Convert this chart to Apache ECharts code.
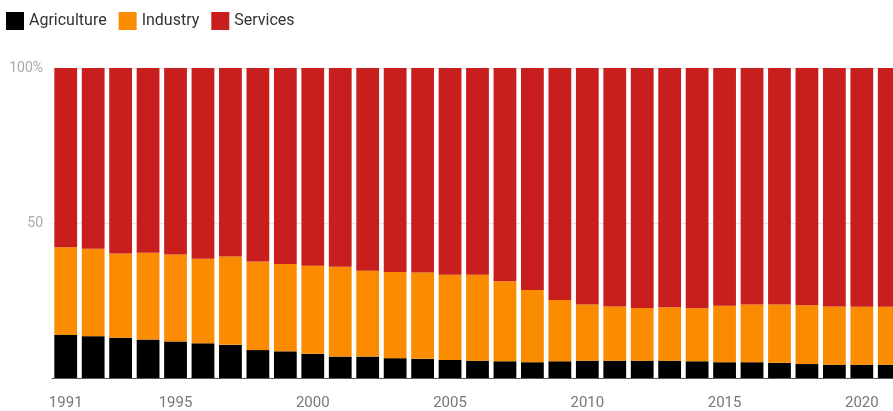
<!DOCTYPE html>
<html>
<head>
<meta charset="utf-8">
<style>
  html, body { margin: 0; padding: 0; background: #fff; overflow: hidden; }
  #chart { width: 903px; height: 411px; }
</style>
<script src="https://cdn.jsdelivr.net/npm/echarts@6/dist/echarts.min.js"></script>
</head>
<body>
<div id="chart"></div>
<script>
// Share of employment by sector, percent of total
const years = ['1991','1992','1993','1994','1995','1996','1997','1998','1999','2000',
  '2001','2002','2003','2004','2005','2006','2007','2008','2009','2010',
  '2011','2012','2013','2014','2015','2016','2017','2018','2019','2020','2021'];

const agriculture = [13.9, 13.5, 13.0, 12.4, 11.8, 11.2, 10.7, 9.0, 8.6, 7.8,
  6.9, 6.9, 6.4, 6.2, 5.8, 5.6, 5.4, 5.1, 5.4, 5.6,
  5.6, 5.6, 5.6, 5.4, 5.1, 5.1, 4.9, 4.5, 4.3, 4.3, 4.3];

const industry = [28.3, 28.2, 27.2, 28.0, 28.0, 27.3, 28.5, 28.6, 28.2, 28.4,
  29.0, 27.7, 27.8, 27.8, 27.5, 27.7, 25.8, 23.3, 19.8, 18.1,
  17.5, 17.0, 17.2, 17.1, 18.2, 18.6, 18.8, 19.0, 18.8, 18.7, 18.7];

const services = [57.8, 58.3, 59.8, 59.6, 60.2, 61.5, 60.8, 62.4, 63.2, 63.8,
  64.1, 65.4, 65.8, 66.0, 66.7, 66.7, 68.8, 71.6, 74.8, 76.3,
  76.9, 77.4, 77.2, 77.5, 76.7, 76.3, 76.3, 76.5, 76.9, 77.0, 77.0];

const yTicks = { 0: '', 50: '50', 100: '100%' };

const chart = echarts.init(document.getElementById('chart'), null, { renderer: 'canvas' });

const showYear = (idx, val) => val === '1991' || Number(val) % 5 === 0;

chart.setOption({
  animation: false,
  textStyle: { fontFamily: 'Roboto' },
  legend: {
    left: 6,
    top: 12,
    padding: 0,
    itemWidth: 18,
    itemHeight: 18,
    itemGap: 12,
    icon: 'rect',
    textStyle: { fontSize: 16, color: '#333', fontFamily: 'Roboto' },
    data: ['Agriculture', 'Industry', 'Services']
  },
  grid: { left: 52, right: 0, top: 68, bottom: 32, containLabel: false },
  xAxis: {
    type: 'category',
    data: years,
    axisLine: { lineStyle: { color: '#555', width: 1 } },
    axisTick: { interval: showYear, alignWithLabel: true, length: 6, lineStyle: { color: '#333' } },
    axisLabel: { interval: showYear, margin: 18, fontSize: 15, color: '#777', fontFamily: 'Roboto' }
  },
  yAxis: {
    type: 'value',
    min: 0,
    max: 100,
    interval: 50,
    axisLine: { show: false },
    axisTick: { show: false },
    axisLabel: {
      margin: 9,
      fontSize: 14,
      color: '#aaa',
      fontFamily: 'Roboto',
      verticalAlign: 'middle',
      formatter: v => yTicks[v] !== undefined ? yTicks[v] : String(v)
    },
    splitLine: { lineStyle: { color: '#e4e4e4', width: 1 } }
  },
  series: [
    { name: 'Agriculture', type: 'bar', stack: 'total', data: agriculture,
      barCategoryGap: '17%', itemStyle: { color: '#000000' } },
    { name: 'Industry', type: 'bar', stack: 'total', data: industry,
      barCategoryGap: '17%', itemStyle: { color: '#fb8c00' } },
    { name: 'Services', type: 'bar', stack: 'total', data: services,
      barCategoryGap: '17%', itemStyle: { color: '#c81e1e' } }
  ]
});
</script>
</body>
</html>
